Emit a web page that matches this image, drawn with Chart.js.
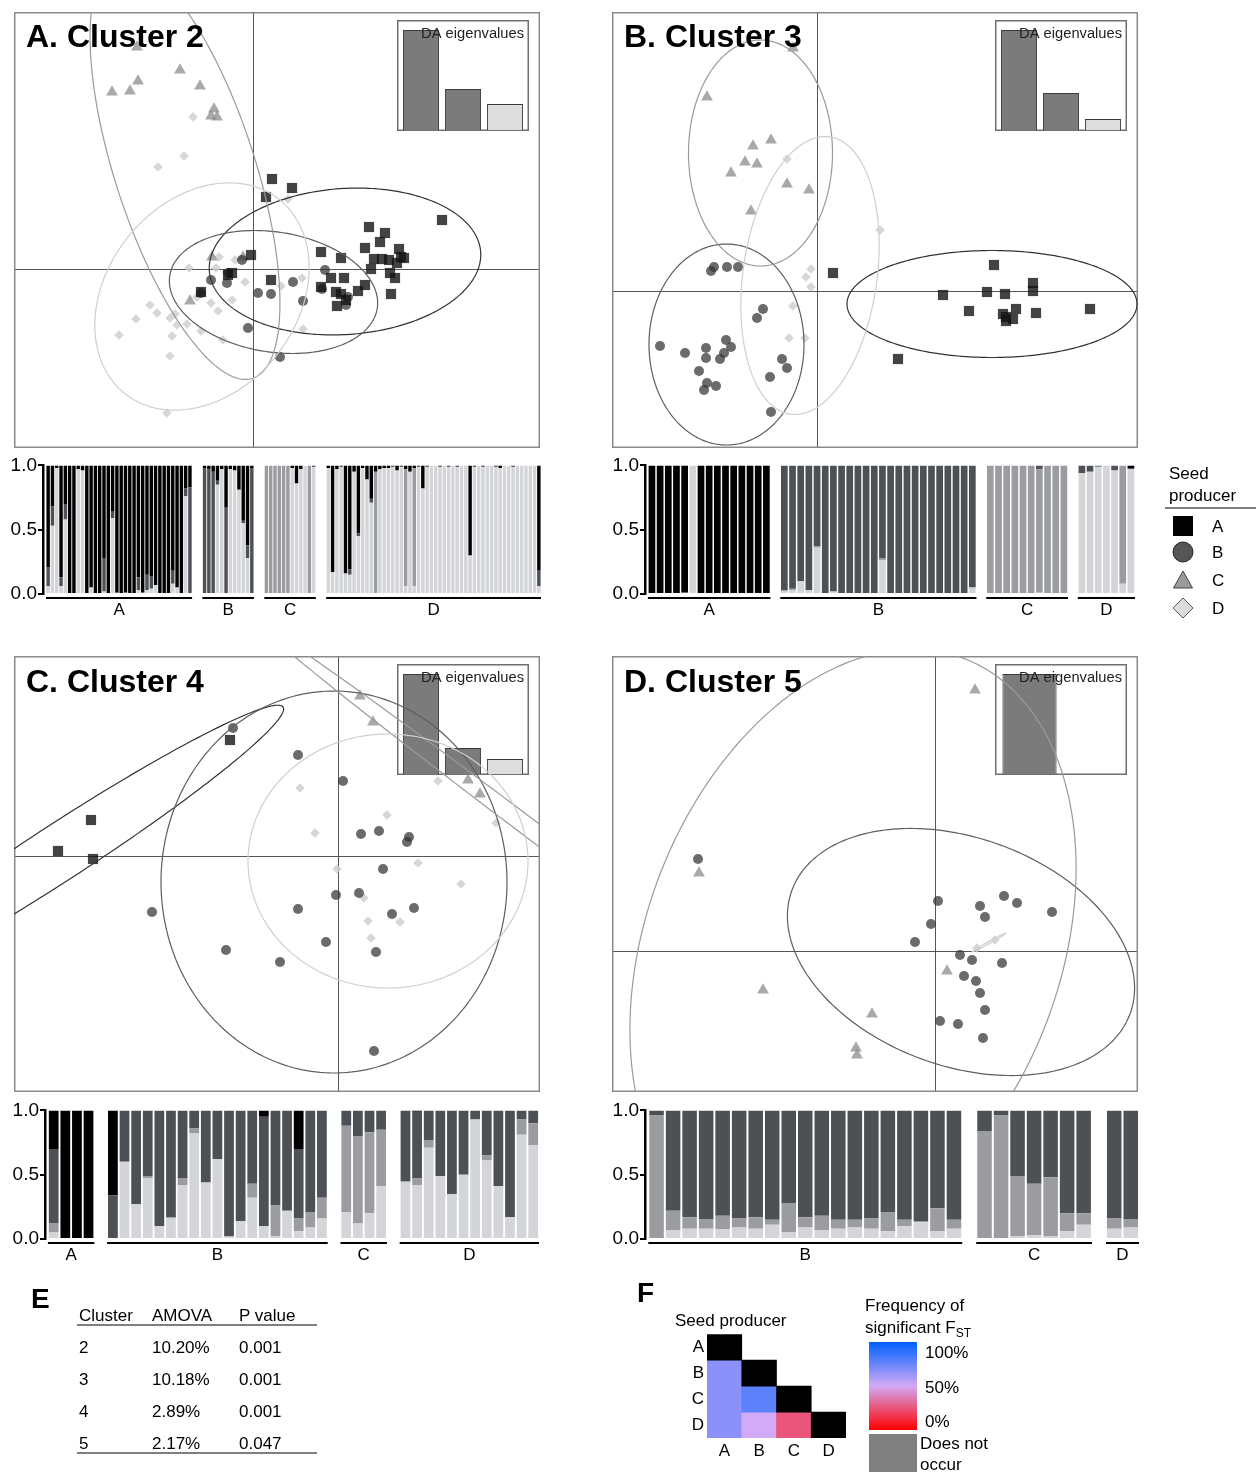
<!DOCTYPE html>
<html>
<head>
<meta charset="utf-8">
<script src="https://cdn.jsdelivr.net/npm/chart.js@4.4.1/dist/chart.umd.min.js"></script>
<style>
  body { margin: 0; background: #fff; }
  #page { position: relative; width: 1256px; height: 1472px; overflow: hidden; background: #fff; }
  #page canvas { position: absolute; }
  #overlay { position: absolute; left: 0; top: 0; z-index: 10; pointer-events: none; }
</style>
</head>
<body>
<div id="page">
<svg id="overlay" width="1256" height="1472" xmlns="http://www.w3.org/2000/svg"
     font-family="'Liberation Sans', Arial, sans-serif" font-size="17" fill="#000">
  <defs>
    <linearGradient id="fstGrad" x1="0" y1="0" x2="0" y2="1">
      <stop offset="0" stop-color="rgb(0,96,255)"/>
      <stop offset="0.5" stop-color="rgb(210,170,245)"/>
      <stop offset="1" stop-color="rgb(255,0,0)"/>
    </linearGradient>
  </defs>
  <!-- legend -->
  <text x="1169" y="479">Seed</text>
  <text x="1169" y="501">producer</text>
  <line x1="1165" y1="508" x2="1256" y2="508" stroke="#000" stroke-width="1.2"/>
  <rect x="1173" y="516" width="20" height="20" fill="#000"/>
  <circle cx="1183" cy="552" r="10" fill="#555" stroke="#222" stroke-width="1"/>
  <polygon points="1183,571 1173.5,588 1192.5,588" fill="#9a9a9a" stroke="#444" stroke-width="1"/>
  <polygon points="1183,598 1193,608 1183,618 1173,608" fill="#dcdcdc" stroke="#555" stroke-width="1"/>
  <text x="1212" y="532">A</text>
  <text x="1212" y="558">B</text>
  <text x="1212" y="586">C</text>
  <text x="1212" y="614">D</text>
  <!-- E -->
  <text x="31" y="1308" font-weight="bold" font-size="28">E</text>
  <text x="79" y="1321">Cluster</text>
  <text x="152" y="1321">AMOVA</text>
  <text x="239" y="1321">P value</text>
  <line x1="77" y1="1325" x2="317" y2="1325" stroke="#000" stroke-width="1.2"/>
  <line x1="77" y1="1453" x2="317" y2="1453" stroke="#000" stroke-width="1.2"/>
  <!-- F -->
  <text x="637" y="1302" font-weight="bold" font-size="28">F</text>
  <text x="675" y="1326">Seed producer</text>
  <text x="865" y="1311">Frequency of</text>
  <text x="865" y="1333">significant F<tspan font-size="12" dy="4">ST</tspan></text>
  <rect x="869" y="1342" width="48" height="88" fill="url(#fstGrad)"/>
  <text x="925" y="1358">100%</text>
  <text x="925" y="1393">50%</text>
  <text x="925" y="1427">0%</text>
  <rect x="869" y="1434" width="48" height="40" fill="#808080"/>
  <text x="920" y="1449">Does not</text>
  <text x="920" y="1470">occur</text>
</svg>
</div>
<script>
const FONT = "'Liberation Sans', Arial, sans-serif";
Chart.defaults.font.family = FONT;
Chart.defaults.color = "#000";

const producers = ["A", "B", "C", "D"];
const clusterTitles = ["A. Cluster 2", "B. Cluster 3", "C. Cluster 4", "D. Cluster 5"];
const producerColors = ["#000000", "#4d5155", "#9b9ca0", "#d4d5d8"];

// DA scores, [LD1, LD2]
const c2PtsA = [[0.19,0.90],[0.39,0.81],[0.13,0.72],[1.89,0.49],[1.16,0.42],[1.32,0.36],[1.27,0.27],[1.12,0.21],[0.68,0.17],[0.88,0.11],[1.46,0.20],[1.48,0.12],[1.21,0.10],[1.29,0.10],[1.36,0.09],[1.51,0.11],[1.44,0.06],[1.18,0.00],[1.37,-0.04],[1.42,-0.09],[1.38,-0.25],[-0.02,0.14],[-0.21,-0.04],[-0.25,-0.06],[-0.52,-0.23],[0.18,-0.11],[0.78,-0.09],[0.91,-0.09],[0.68,-0.18],[1.12,-0.16],[1.05,-0.22],[0.83,-0.23],[0.88,-0.25],[0.84,-0.37],[0.93,-0.31]];
const c2PtsB = [[0.72,-0.01],[0.40,-0.13],[0.05,-0.24],[0.18,-0.25],[0.50,-0.32],[-0.05,-0.59],[0.27,-0.88],[-0.26,-0.14],[-0.42,-0.11],[-0.11,0.09],[-0.52,-0.24],[0.69,-0.20],[0.95,-0.28],[0.93,-0.36],[-0.25,-0.04]];
const c2PtsC = [[-1.16,2.22],[-0.73,1.99],[-1.15,1.88],[-1.41,1.77],[-1.23,1.78],[-0.53,1.83],[-0.39,1.60],[-0.42,1.53],[-0.36,1.52],[-0.41,0.12],[-0.10,0.12],[-0.63,-0.32]];
const c2PtsD = [[-0.60,1.52],[-0.69,1.13],[-0.95,1.02],[0.35,0.70],[-0.34,0.12],[-0.18,0.09],[-0.64,0.01],[-0.37,0.01],[-0.08,-0.13],[0.49,-0.09],[0.28,-0.17],[-0.52,-0.24],[-0.21,-0.31],[-0.42,-0.34],[-0.35,-0.42],[-1.03,-0.36],[-0.96,-0.44],[-1.17,-0.50],[-0.83,-0.49],[-0.78,-0.45],[-0.76,-0.56],[-0.66,-0.55],[-0.52,-0.62],[-1.34,-0.66],[-0.81,-0.67],[-0.30,-0.71],[-0.83,-0.87],[-0.86,-1.44],[0.50,-0.60],[-0.56,-0.28]];

const c3PtsA = [[0.16,0.18],[1.77,0.26],[1.26,-0.04],[1.70,-0.01],[1.88,-0.03],[2.16,0.08],[2.16,0.00],[1.52,-0.20],[1.99,-0.18],[2.19,-0.22],[2.73,-0.18],[1.86,-0.23],[1.89,-0.26],[1.89,-0.30],[1.96,-0.28],[0.81,-0.68]];
const c3PtsB = [[-1.03,0.24],[-1.06,0.20],[-0.90,0.24],[-0.79,0.24],[-0.54,-0.18],[-0.60,-0.27],[-1.57,-0.55],[-1.32,-0.62],[-1.11,-0.57],[-1.11,-0.67],[-0.91,-0.49],[-0.86,-0.56],[-0.93,-0.62],[-0.97,-0.68],[-1.18,-0.80],[-1.10,-0.92],[-1.01,-0.95],[-1.13,-0.99],[-0.35,-0.68],[-0.30,-0.77],[-0.47,-0.86],[-0.46,-1.21]];
const c3PtsC = [[-0.24,2.43],[-1.10,1.94],[-0.46,1.51],[-0.64,1.45],[-0.72,1.29],[-0.60,1.27],[-0.86,1.18],[-0.30,1.07],[-0.08,1.01],[-0.66,0.80]];
const c3PtsD = [[-0.30,1.32],[0.63,0.61],[-0.06,0.22],[-0.11,0.14],[-0.06,0.04],[-0.24,-0.15],[-0.28,-0.47],[-0.12,-0.47]];

const c4PtsA = [[-1.08,1.16],[-2.47,0.36],[-2.80,0.05],[-2.45,-0.03]];
const c4PtsB = [[-1.05,1.28],[-0.40,1.01],[0.05,0.75],[0.23,0.22],[0.41,0.25],[0.71,0.19],[0.69,0.14],[0.45,-0.13],[0.21,-0.37],[-0.02,-0.39],[-0.40,-0.53],[0.54,-0.58],[0.76,-0.52],[-0.12,-0.86],[0.38,-0.96],[-1.12,-0.94],[-0.58,-1.06],[-1.86,-0.56],[0.36,-1.95]];
const c4PtsC = [[0.22,1.60],[0.35,1.34],[1.30,0.76],[1.42,0.62]];
const c4PtsD = [[-0.38,0.68],[1.00,0.75],[0.49,0.41],[-0.23,0.23],[0.80,-0.07],[1.23,-0.28],[-0.01,-0.13],[0.26,-0.42],[0.30,-0.65],[0.62,-0.66],[0.33,-0.82],[1.58,0.33]];

const c5PtsA = [];
const c5PtsB = [[-2.37,0.92],[0.03,0.50],[-0.04,0.27],[-0.20,0.09],[0.45,0.45],[0.50,0.34],[0.69,0.55],[0.82,0.48],[1.17,0.39],[0.25,-0.04],[0.37,-0.09],[0.67,-0.12],[0.29,-0.25],[0.41,-0.30],[0.45,-0.42],[0.50,-0.59],[0.05,-0.70],[0.23,-0.73],[0.48,-0.87]];
const c5PtsC = [[0.40,2.61],[-2.36,0.78],[-1.72,-0.39],[-0.63,-0.63],[0.12,-0.20],[-0.79,-0.97],[-0.78,-1.04]];
const c5PtsD = [[0.42,0.03],[0.60,0.11]];

// inertia ellipses per producer: [centre x, centre y, semi-axis 1, semi-axis 2, angle deg]
const c2Ellipses = [[0.92,0.075,1.36,0.73,4],[0.205,-0.23,1.05,0.60,-9],[-0.68,0.99,2.19,0.70,-72],[-0.51,-0.275,1.24,0.95,51.5]];
const c3Ellipses = [[1.75,-0.13,1.45,0.535,0],[-0.905,-0.535,0.775,1.005,0],[-0.565,1.38,0.72,1.13,0],[-0.07,0.155,1.40,0.67,82]];
const c4Ellipses = [[-2.78,0.04,2.66,0.28,33],[-0.04,-0.26,1.73,1.91,0],[2.02,0.20,3.49,0.092,-37],[0.50,-0.05,1.40,1.27,0]];
const c5Ellipses = [null,[0.26,-0.01,1.80,1.14,-20],[-0.82,0.02,3.11,2.07,69],[0.54,0.085,0.195,0.01,29]];

const c2XRange = [-2.39, 2.87], c2YRange = [-1.79, 2.57];
const c3XRange = [-2.05, 3.21], c3YRange = [-1.57, 2.79];
const c4XRange = [-3.24, 2.02], c4YRange = [-2.36, 2.00];
const c5XRange = [-3.23, 2.03], c5YRange = [-1.41, 2.95];

const c2Eigen = [100, 41, 26];
const c3Eigen = [100, 37, 11];
const c4Eigen = [100, 26, 15];
const c5Eigen = [100, 0];

// membership probability per individual: [A, B, C, D]
const c2StructA = [[.79,.15,0,.06],[.32,.15,0,.53],[.02,0,0,.98],[.87,.07,0,.06],[.30,.12,0,.58],[1,0,0,0],[1,0,0,0],[.03,0,0,.97],[.04,0,0,.96],[1,0,0,0],[.95,0,0,.05],[1,0,0,0],[1,0,0,0],[.72,.26,0,.02],[1,0,0,0],[.36,.05,0,.59],[.99,0,0,.01],[1,0,0,0],[.99,0,0,.01],[1,0,0,0],[1,0,0,0],[.87,.10,0,.03],[.99,0,0,.01],[.85,.12,0,.03],[.86,.10,0,.04],[.93,0,0,.07],[1,0,0,0],[1,0,0,0],[1,0,0,0],[.82,.10,0,.08],[.95,0,0,.05],[1,0,0,0],[.18,.06,0,.76],[.17,.83,0,0]];
const c2StructB = [[.02,.98,0,0],[.03,.97,0,0],[.05,.95,0,0],[.12,.03,0,.85],[.03,0,0,.97],[.33,.67,0,0],[.03,0,0,.97],[.04,0,0,.96],[.19,0,0,.81],[.43,.02,0,.55],[.62,.10,0,.28],[.02,.98,0,0]];
const c2StructC = [[0,0,1,0],[0,0,1,0],[0,0,1,0],[0,0,1,0],[0,0,1,0],[0,0,1,0],[.02,0,0,.98],[.14,0,0,.86],[.03,0,0,.97],[0,0,0,1],[0,0,1,0],[.01,0,0,.99]];
const c2StructD = [[.02,0,0,.98],[.83,0,0,.17],[.03,0,0,.97],[.01,0,0,.99],[.84,0,0,.16],[.81,.04,0,.15],[.05,0,0,.95],[.53,.02,0,.45],[.02,0,0,.98],[.11,0,0,.89],[.26,.03,0,.71],[.05,0,.95,0],[.03,0,0,.97],[.02,0,0,.98],[.02,0,0,.98],[.01,0,0,.99],[.04,0,0,.96],[.01,0,0,.99],[.03,0,.91,.06],[.05,0,0,.95],[.02,0,.92,.06],[.01,0,0,.99],[.18,0,0,.82],[.01,0,0,.99],[0,0,0,1],[0,0,0,1],[.01,0,0,.99],[0,0,0,1],[.01,0,0,.99],[0,0,0,1],[.01,0,0,.99],[0,0,0,1],[0,0,0,1],[.70,0,0,.30],[.01,0,0,.99],[0,0,0,1],[.01,0,0,.99],[0,0,0,1],[0,0,0,1],[.01,0,0,.99],[.02,0,0,.98],[0,0,0,1],[0,0,0,1],[.01,0,0,.99],[0,0,0,1],[0,0,0,1],[0,0,0,1],[0,0,0,1],[0,0,0,1],[.82,.12,0,.06]];

const c3StructA = [[1,0,0,0],[1,0,0,0],[1,0,0,0],[1,0,0,0],[.99,0,0,.01],[0,0,0,1],[1,0,0,0],[1,0,0,0],[1,0,0,0],[1,0,0,0],[1,0,0,0],[1,0,0,0],[1,0,0,0],[1,0,0,0],[1,0,0,0]];
const c3StructB = [[0,.97,.01,.02],[0,.96,.01,.03],[0,.90,0,.10],[0,.97,0,.03],[0,.63,.01,.36],[0,1,0,0],[0,.98,0,.02],[0,1,0,0],[0,1,0,0],[0,1,0,0],[0,1,0,0],[0,1,0,0],[0,.72,.02,.26],[0,1,0,0],[0,1,0,0],[0,1,0,0],[0,1,0,0],[0,1,0,0],[0,1,0,0],[0,1,0,0],[0,1,0,0],[0,1,0,0],[0,1,0,0],[0,.95,0,.05]];
const c3StructC = [[0,0,1,0],[0,0,1,0],[0,0,1,0],[0,0,1,0],[0,0,1,0],[0,0,1,0],[0,.03,.96,.01],[0,0,1,0],[0,0,1,0],[0,0,1,0]];
const c3StructD = [[0,.06,0,.94],[0,.05,0,.95],[0,.01,0,.99],[0,0,0,1],[0,.04,0,.96],[0,0,.92,.08],[.02,.01,0,.97]];

const c4StructA = [[.30,.58,.07,.05],[1,0,0,0],[1,0,0,0],[1,0,0,0]];
const c4StructB = [[.66,.34,0,0],[0,.40,0,.60],[0,.73,0,.27],[0,.51,.02,.47],[0,.90,0,.10],[0,.83,.01,.16],[0,.53,.05,.42],[0,.14,.04,.82],[0,.56,0,.44],[0,.38,0,.62],[0,.98,0,.02],[0,.86,0,.14],[0,.57,.11,.32],[.05,.85,0,.10],[0,.74,.24,.02],[0,.78,0,.22],[.30,.54,.10,.06],[0,.79,.12,.09],[0,.68,.16,.16]];
const c4StructC = [[0,.12,.67,.21],[0,.20,.68,.12],[0,.17,.63,.20],[0,.15,.44,.41]];
const c4StructD = [[0,.55,.01,.44],[.01,.52,.05,.42],[0,.23,.06,.71],[0,.51,0,.49],[0,.65,0,.35],[0,.50,0,.50],[0,.07,0,.93],[0,.35,.04,.61],[0,.59,0,.41],[0,.83,0,.17],[0,.07,.12,.81],[0,.10,.17,.73]];

const c5StructB = [[0,.04,.96,0],[0,.78,.15,.07],[0,.83,.09,.08],[0,.845,.075,.08],[0,.82,.105,.075],[0,.84,.07,.09],[0,.83,.09,.08],[0,.85,.04,.11],[0,.72,.225,.055],[0,.83,.08,.09],[0,.82,.11,.07],[0,.85,.07,.08],[0,.85,.06,.09],[0,.84,.08,.08],[0,.79,.15,.06],[0,.85,.05,.10],[0,.86,.01,.13],[0,.76,.18,.06],[0,.85,.07,.08]];
const c5StructC = [[0,.16,.84,0],[0,.04,.96,0],[0,.51,.47,.02],[0,.57,.40,.03],[0,.52,.46,.02],[0,.80,.14,.06],[0,.80,.09,.11]];
const c5StructD = [[0,.84,.08,.08],[0,.845,.065,.09]];

// AMOVA table
const amovaCluster = ["2", "3", "4", "5"];
const amovaVariation = ["10.20%", "10.18%", "2.89%", "2.17%"];
const amovaP = ["0.001", "0.001", "0.001", "0.047"];

// frequency of significant pairwise FST (row producer vs column producer)
const fstFreq = [[], [0.67], [0.67, 0.78], [0.67, 0.50, 0.25]];

const page = document.getElementById("page");
const overlay = document.getElementById("overlay");

function addCanvas(left, top, w, h, z) {
  const c = document.createElement("canvas");
  c.width = w;
  c.height = h;
  c.style.cssText = `left:${left}px;top:${top}px;width:${w}px;height:${h}px;z-index:${z}`;
  page.appendChild(c);
  return c;
}

function svgText(x, y, str, attrs = {}) {
  const t = document.createElementNS("http://www.w3.org/2000/svg", "text");
  t.setAttribute("x", x);
  t.setAttribute("y", y);
  for (const k in attrs) t.setAttribute(k, attrs[k]);
  t.textContent = str;
  overlay.appendChild(t);
}

const baseOpts = {
  responsive: false,
  animation: false,
  devicePixelRatio: 1,
  events: [],
  plugins: { legend: { display: false }, tooltip: { enabled: false } },
};

// --- DAPC scatter panels ---
const pointStyles = ["rect", "circle", "triangle", "rectRot"];
const pointRadii = [7.2, 5, 6.8, 4.8];
const pointFills = ["rgba(20,20,20,0.8)", "rgba(50,50,50,0.72)", "rgba(140,140,140,0.75)", "rgba(205,205,205,0.8)"];
const ellipseColors = ["#333333", "#5e5e5e", "#9a9a9a", "#cfcfcf"];

function dapcPlugin(ellipses) {
  return {
    id: "dapc",
    beforeDatasetsDraw(chart) {
      const { ctx, chartArea: a, scales: { x, y } } = chart;
      ctx.save();
      const x0 = Math.round(x.getPixelForValue(0)) + 0.5;
      const y0 = Math.round(y.getPixelForValue(0)) + 0.5;
      ctx.strokeStyle = "#555";
      ctx.lineWidth = 1;
      ctx.beginPath();
      ctx.moveTo(x0, a.top);
      ctx.lineTo(x0, a.bottom);
      ctx.moveTo(a.left, y0);
      ctx.lineTo(a.right, y0);
      ctx.stroke();
      ctx.strokeStyle = "#8a8a8a";
      ctx.lineWidth = 1.5;
      ctx.strokeRect(a.left + 0.75, a.top + 0.75, a.right - a.left - 1.5, a.bottom - a.top - 1.5);
      ctx.restore();
    },
    afterDatasetsDraw(chart) {
      const { ctx, chartArea: a, scales: { x, y } } = chart;
      ctx.save();
      ctx.beginPath();
      ctx.rect(a.left, a.top, a.right - a.left, a.bottom - a.top);
      ctx.clip();
      ellipses.forEach((e, g) => {
        if (!e) return;
        const [cx, cy, ra, rb, deg] = e;
        const phi = (deg * Math.PI) / 180;
        ctx.beginPath();
        for (let k = 0; k <= 240; k++) {
          const t = (k / 240) * 2 * Math.PI;
          const dx = ra * Math.cos(t), dy = rb * Math.sin(t);
          const px = x.getPixelForValue(cx + dx * Math.cos(phi) - dy * Math.sin(phi));
          const py = y.getPixelForValue(cy + dx * Math.sin(phi) + dy * Math.cos(phi));
          if (k) ctx.lineTo(px, py);
          else ctx.moveTo(px, py);
        }
        ctx.closePath();
        ctx.strokeStyle = ellipseColors[g];
        ctx.lineWidth = 1.2;
        ctx.stroke();
      });
      ctx.restore();
    },
  };
}

function makeScatter(left, top, pts, ellipses, xr, yr) {
  const cv = addCanvas(left, top, 526, 436, 3);
  new Chart(cv, {
    type: "scatter",
    data: {
      datasets: pts.map((list, g) => ({
        label: producers[g],
        data: list.map(([x, y]) => ({ x, y })),
        pointStyle: pointStyles[g],
        pointRadius: pointRadii[g],
        backgroundColor: pointFills[g],
        borderWidth: 0,
      })),
    },
    options: {
      ...baseOpts,
      layout: { padding: 0, autoPadding: false },
      scales: {
        x: { type: "linear", display: false, min: xr[0], max: xr[1] },
        y: { type: "linear", display: false, min: yr[0], max: yr[1] },
      },
    },
    plugins: [dapcPlugin(ellipses)],
  });
}

const insetPlugin = {
  id: "inset",
  beforeDraw(chart) {
    const { ctx, width, height } = chart;
    ctx.save();
    ctx.fillStyle = "#fff";
    ctx.fillRect(0, 0, width, height);
    ctx.strokeStyle = "#6f6f6f";
    ctx.lineWidth = 1.5;
    ctx.strokeRect(0.75, 0.75, width - 1.5, height - 1.5);
    ctx.restore();
  },
  afterDraw(chart) {
    const { ctx, width } = chart;
    ctx.save();
    ctx.font = "14.7px " + FONT;
    ctx.fillStyle = "#222";
    ctx.textAlign = "right";
    ctx.fillText("DA eigenvalues", width - 5, 17.5);
    ctx.restore();
  },
};

function makeInset(left, top, eig) {
  const cv = addCanvas(left, top, 132, 111, 2);
  new Chart(cv, {
    type: "bar",
    data: {
      labels: eig.map((v, i) => String(i + 1)),
      datasets: [
        {
          data: eig,
          backgroundColor: eig.map((v, i) => (i < eig.length - 1 ? "#7b7b7b" : "#dddddd")),
          borderColor: eig.map((v) => (v > 0 ? "#3a3a3a" : "rgba(0,0,0,0)")),
          borderWidth: 1,
          categoryPercentage: 1,
          barPercentage: 0.86,
        },
      ],
    },
    options: {
      ...baseOpts,
      layout: { padding: { left: 3, right: 3, top: 1, bottom: 1 }, autoPadding: false },
      scales: {
        x: { display: false },
        y: { display: false, min: 0, max: eig[0] * 1.09 },
      },
    },
    plugins: [insetPlugin],
  });
}

// --- membership bar panels ---
function makeStructure(left, top, width, groups, gap, lead, barPct) {
  const cv = addCanvas(left, top, width, 167, 4);
  let pos = 0;
  const xs = [], spans = [], all = [];
  groups.forEach(([name, bars], gi) => {
    if (gi) pos += gap;
    const start = pos;
    bars.forEach((b) => {
      xs.push(pos);
      all.push(b);
      pos += 1;
    });
    spans.push([start - 0.5, pos - 0.5, name]);
  });
  const datasets = [3, 2, 1, 0].map((k) => ({
    label: producers[k],
    data: all.map((b, i) => ({ x: xs[i], y: b[k] })),
    backgroundColor: producerColors[k],
    borderWidth: 0,
    categoryPercentage: 1,
    barPercentage: barPct,
  }));
  new Chart(cv, {
    type: "bar",
    data: { datasets },
    options: {
      ...baseOpts,
      layout: { padding: { top: 12, bottom: 26, left: 0, right: 0 }, autoPadding: false },
      scales: {
        x: { type: "linear", display: false, stacked: true, offset: false, min: -0.5 - lead, max: pos - 0.5 },
        y: {
          stacked: true,
          min: 0,
          max: 1,
          ticks: { stepSize: 0.5, callback: (v) => v.toFixed(1), font: { size: 19 }, color: "#000", padding: 1 },
          grid: { drawOnChartArea: false, drawTicks: true, tickLength: 5, color: "#000", lineWidth: 2 },
          border: { display: true, color: "#000", width: 2.5 },
          afterFit(sc) { sc.width = 40; },
        },
      },
    },
    plugins: [
      {
        id: "groups",
        afterDraw(chart) {
          const { ctx, chartArea: a, scales: { x } } = chart;
          ctx.save();
          ctx.strokeStyle = "#000";
          ctx.lineWidth = 2;
          ctx.fillStyle = "#000";
          ctx.font = "17px " + FONT;
          ctx.textAlign = "center";
          ctx.textBaseline = "middle";
          spans.forEach(([s0, s1, name]) => {
            const p0 = x.getPixelForValue(s0), p1 = x.getPixelForValue(s1);
            ctx.beginPath();
            ctx.moveTo(p0, a.bottom + 4);
            ctx.lineTo(p1, a.bottom + 4);
            ctx.stroke();
            ctx.fillText(name, (p0 + p1) / 2, a.bottom + 16);
          });
          ctx.restore();
        },
      },
    ],
  });
}

makeScatter(14, 12, [c2PtsA, c2PtsB, c2PtsC, c2PtsD], c2Ellipses, c2XRange, c2YRange);
makeScatter(612, 12, [c3PtsA, c3PtsB, c3PtsC, c3PtsD], c3Ellipses, c3XRange, c3YRange);
makeScatter(14, 656, [c4PtsA, c4PtsB, c4PtsC, c4PtsD], c4Ellipses, c4XRange, c4YRange);
makeScatter(612, 656, [c5PtsA, c5PtsB, c5PtsC, c5PtsD], c5Ellipses, c5XRange, c5YRange);

makeInset(397, 20, c2Eigen);
makeInset(995, 20, c3Eigen);
makeInset(397, 664, c4Eigen);
makeInset(995, 664, c5Eigen);

makeStructure(3, 453, 538, [["A", c2StructA], ["B", c2StructB], ["C", c2StructC], ["D", c2StructD]], 2.4, 0.7, 0.8);
makeStructure(605, 453, 530, [["A", c3StructA], ["B", c3StructB], ["C", c3StructC], ["D", c3StructD]], 1.2, 0.35, 0.82);
makeStructure(5, 1098, 534, [["A", c4StructA], ["B", c4StructB], ["C", c4StructC], ["D", c4StructD]], 1.1, 0.25, 0.84);
makeStructure(605, 1098, 534, [["B", c5StructB], ["C", c5StructC], ["D", c5StructD]], 0.85, 0.2, 0.88);

// panel titles
[[26, 47], [624, 47], [26, 692], [624, 692]].forEach(([x, y], i) =>
  svgText(x, y, clusterTitles[i], { "font-weight": "bold", "font-size": "32" })
);

// E: AMOVA table
amovaCluster.forEach((c, i) => {
  const y = 1353 + i * 32;
  svgText(79, y, c);
  svgText(152, y, amovaVariation[i]);
  svgText(239, y, amovaP[i]);
});

// F: pairwise FST heat map
const fstStops = [[0, [255, 0, 0]], [0.5, [210, 170, 245]], [1, [0, 96, 255]]];
function fstColor(v) {
  for (let i = 1; i < fstStops.length; i++) {
    const [v0, c0] = fstStops[i - 1], [v1, c1] = fstStops[i];
    if (v <= v1) {
      const t = (v - v0) / (v1 - v0);
      return `rgb(${c0.map((c, k) => Math.round(c + (c1[k] - c) * t)).join(",")})`;
    }
  }
  return "rgb(0,96,255)";
}

const heatCanvas = addCanvas(680, 1321, 170, 147, 4);
new Chart(heatCanvas, {
  type: "bar",
  data: {
    labels: producers,
    datasets: producers.map((r, ri) => ({
      data: producers.map((c, ci) => (ci <= ri ? [ri, ri + 1] : null)),
      backgroundColor: producers.map((c, ci) =>
        ci === ri ? "#000" : ci < ri ? fstColor(fstFreq[ri][ci]) : "rgba(0,0,0,0)"
      ),
      borderWidth: 0,
      grouped: false,
      categoryPercentage: 1,
      barPercentage: 1,
    })),
  },
  options: {
    ...baseOpts,
    layout: { padding: { top: 6, right: 4, left: 0, bottom: 0 }, autoPadding: false },
    scales: {
      x: {
        grid: { display: false, drawTicks: false },
        border: { display: false },
        ticks: { font: { size: 17 }, color: "#000", padding: 3 },
        afterFit(s) { s.height = 30; },
      },
      y: {
        type: "linear",
        reverse: true,
        min: 0,
        max: 4,
        grid: { display: false, drawTicks: false },
        border: { display: false },
        afterBuildTicks(s) { s.ticks = producers.map((p, i) => ({ value: i + 0.5 })); },
        ticks: { font: { size: 17 }, color: "#000", padding: 3, callback: (v) => producers[Math.floor(v)] },
        afterFit(s) { s.width = 27; },
      },
    },
  },
});
</script>
</body>
</html>
